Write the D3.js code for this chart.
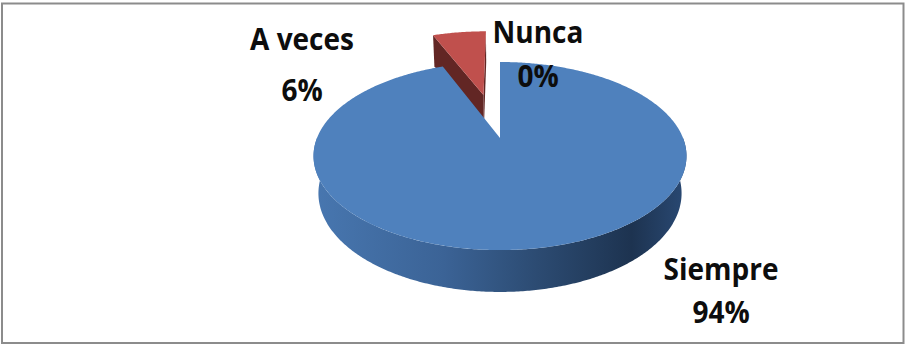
<!DOCTYPE html>
<html lang="es">
<head>
<meta charset="utf-8">
<title>Siempre / A veces / Nunca</title>
<script src="https://cdn.jsdelivr.net/npm/d3@7"></script>
<style>
  body { margin: 0; background: #fff; }
  text { font-family: "Open Sans", "Noto Sans", sans-serif; font-weight: 700; }
</style>
</head>
<body>
<script>
// data
var categories = ["Siempre", "A veces", "Nunca"];
var values = [94, 6, 0];
var valueLabels = ["94%", "6%", "0%"];

var w = 913, h = 351;

// 3d view setup (perspective pie)
var cx0 = 500, cy0 = 138;
var F = 830, D = 4.535;
var sinA = 0.495, cosA = 0.869;
var depthH = 0.238;
var explode = {"A veces": 0.53};

var topColor = {"Siempre": "#4f81bd", "A veces": "#c0504d", "Nunca": "#9bbb59"};
var faceColor = {"Siempre": "#2c4d75", "A veces": "#622624", "Nunca": "#5f7530"};

// label anchors (centre x, first line baseline, line gap)
var labelAt = {"Siempre": [721, 280, 43], "A veces": [302, 50, 51], "Nunca": [538, 43, 44]};

function proj(X, Y, Z) {
    var dep = D + Y * cosA - Z * sinA;
    return [cx0 + F * X / dep, cy0 - F * (Y * sinA + Z * cosA) / dep];
}

var svg = d3.select("body").append("svg")
    .attr("width", w)
    .attr("height", h);

// frame
svg.append("rect")
    .attr("x", 2).attr("y", 3.5)
    .attr("width", 901.5).attr("height", 339.5)
    .attr("fill", "#fff")
    .attr("stroke", "#8c8c8c")
    .attr("stroke-width", 2);

// side gradient
var defs = svg.append("defs");
var gl = proj(-1, 0, 0)[0] - 5, gr = proj(1, 0, 0)[0] + 5;
var grad = defs.append("linearGradient")
    .attr("id", "sideBlue")
    .attr("gradientUnits", "userSpaceOnUse")
    .attr("x1", gl).attr("x2", gr).attr("y1", 0).attr("y2", 0);
[[0, "#4877b0"], [0.35, "#3b6396"], [0.6, "#2c4b72"], [0.85, "#1d3350"], [1, "#2a4a75"]].forEach(function (s) {
    grad.append("stop").attr("offset", s[0]).attr("stop-color", s[1]);
});

var pie = d3.pie().sort(null).value(function (d) { return d.v; });
var arcs = pie(categories.map(function (c, i) { return {name: c, v: values[i], label: valueLabels[i]}; }))
    .filter(function (d) { return d.endAngle - d.startAngle > 1e-6; });

arcs.forEach(function (d) {
    var e = explode[d.data.name] || 0;
    var mid = (d.startAngle + d.endAngle) / 2;
    d.ox = e * Math.sin(mid);
    d.oy = e * Math.cos(mid);
});

var line = d3.line();

function rim(d, a, z) {
    return proj(d.ox + Math.sin(a), d.oy + Math.cos(a), z);
}

function arcPts(d, a0, a1, z) {
    var n = Math.max(2, Math.ceil((a1 - a0) / 0.01));
    return d3.range(n + 1).map(function (i) { return rim(d, a0 + (a1 - a0) * i / n, z); });
}

// cut faces (only the ones facing the camera)
var C = [0, -D * cosA, D * sinA];
var cutFaces = [];
arcs.forEach(function (d) {
    [[d.startAngle, -1], [d.endAngle, 1]].forEach(function (f) {
        var a = f[0], s = f[1];
        var nx = s * Math.cos(a), ny = -s * Math.sin(a);
        var dot = nx * (C[0] - d.ox) + ny * (C[1] - d.oy);
        if (dot > 1e-3) {
            cutFaces.push({d: d, pts: [
                proj(d.ox, d.oy, 0), rim(d, a, 0), rim(d, a, -depthH), proj(d.ox, d.oy, -depthH)
            ]});
        }
    });
});

svg.selectAll("path.cut")
    .data(cutFaces)
    .enter().append("path")
    .attr("class", "cut")
    .attr("d", function (f) { return line(f.pts) + "Z"; })
    .attr("fill", function (f) { return faceColor[f.d.data.name]; });

// outer sides, front half only
var sides = arcs.map(function (d) {
    var a0 = Math.max(d.startAngle, Math.PI / 2), a1 = Math.min(d.endAngle, Math.PI * 1.5);
    if (a1 <= a0) return null;
    var pts = arcPts(d, a0, a1, 0).concat(arcPts(d, a0, a1, -depthH).reverse());
    return {d: d, pts: pts};
}).filter(Boolean);

svg.selectAll("path.side")
    .data(sides)
    .enter().append("path")
    .attr("class", "side")
    .attr("d", function (s) { return line(s.pts) + "Z"; })
    .attr("fill", function (s) { return s.d.data.name === "Siempre" ? "url(#sideBlue)" : faceColor[s.d.data.name]; });

// tops, farther slices first
svg.selectAll("path.top")
    .data(arcs.slice().sort(function (a, b) { return b.oy - a.oy; }))
    .enter().append("path")
    .attr("class", "top")
    .attr("d", function (d) {
        return line([proj(d.ox, d.oy, 0)].concat(arcPts(d, d.startAngle, d.endAngle, 0))) + "Z";
    })
    .attr("fill", function (d) { return topColor[d.data.name]; });

// data labels
var lab = svg.selectAll("g.lab")
    .data(categories.map(function (c, i) { return {name: c, label: valueLabels[i]}; }))
    .enter().append("g")
    .attr("class", "lab");

function labelText(line2) {
    lab.append("text")
        .attr("transform", function (d) {
            var p = labelAt[d.name];
            return "translate(" + p[0] + "," + (p[1] + (line2 ? p[2] : 0)) + ") scale(1,1.08)";
        })
        .attr("text-anchor", "middle")
        .attr("font-size", 28)
        .attr("fill", "#0d0d0d")
        .text(function (d) { return line2 ? d.label : d.name; });
}
labelText(false);
labelText(true);
</script>
</body>
</html>
